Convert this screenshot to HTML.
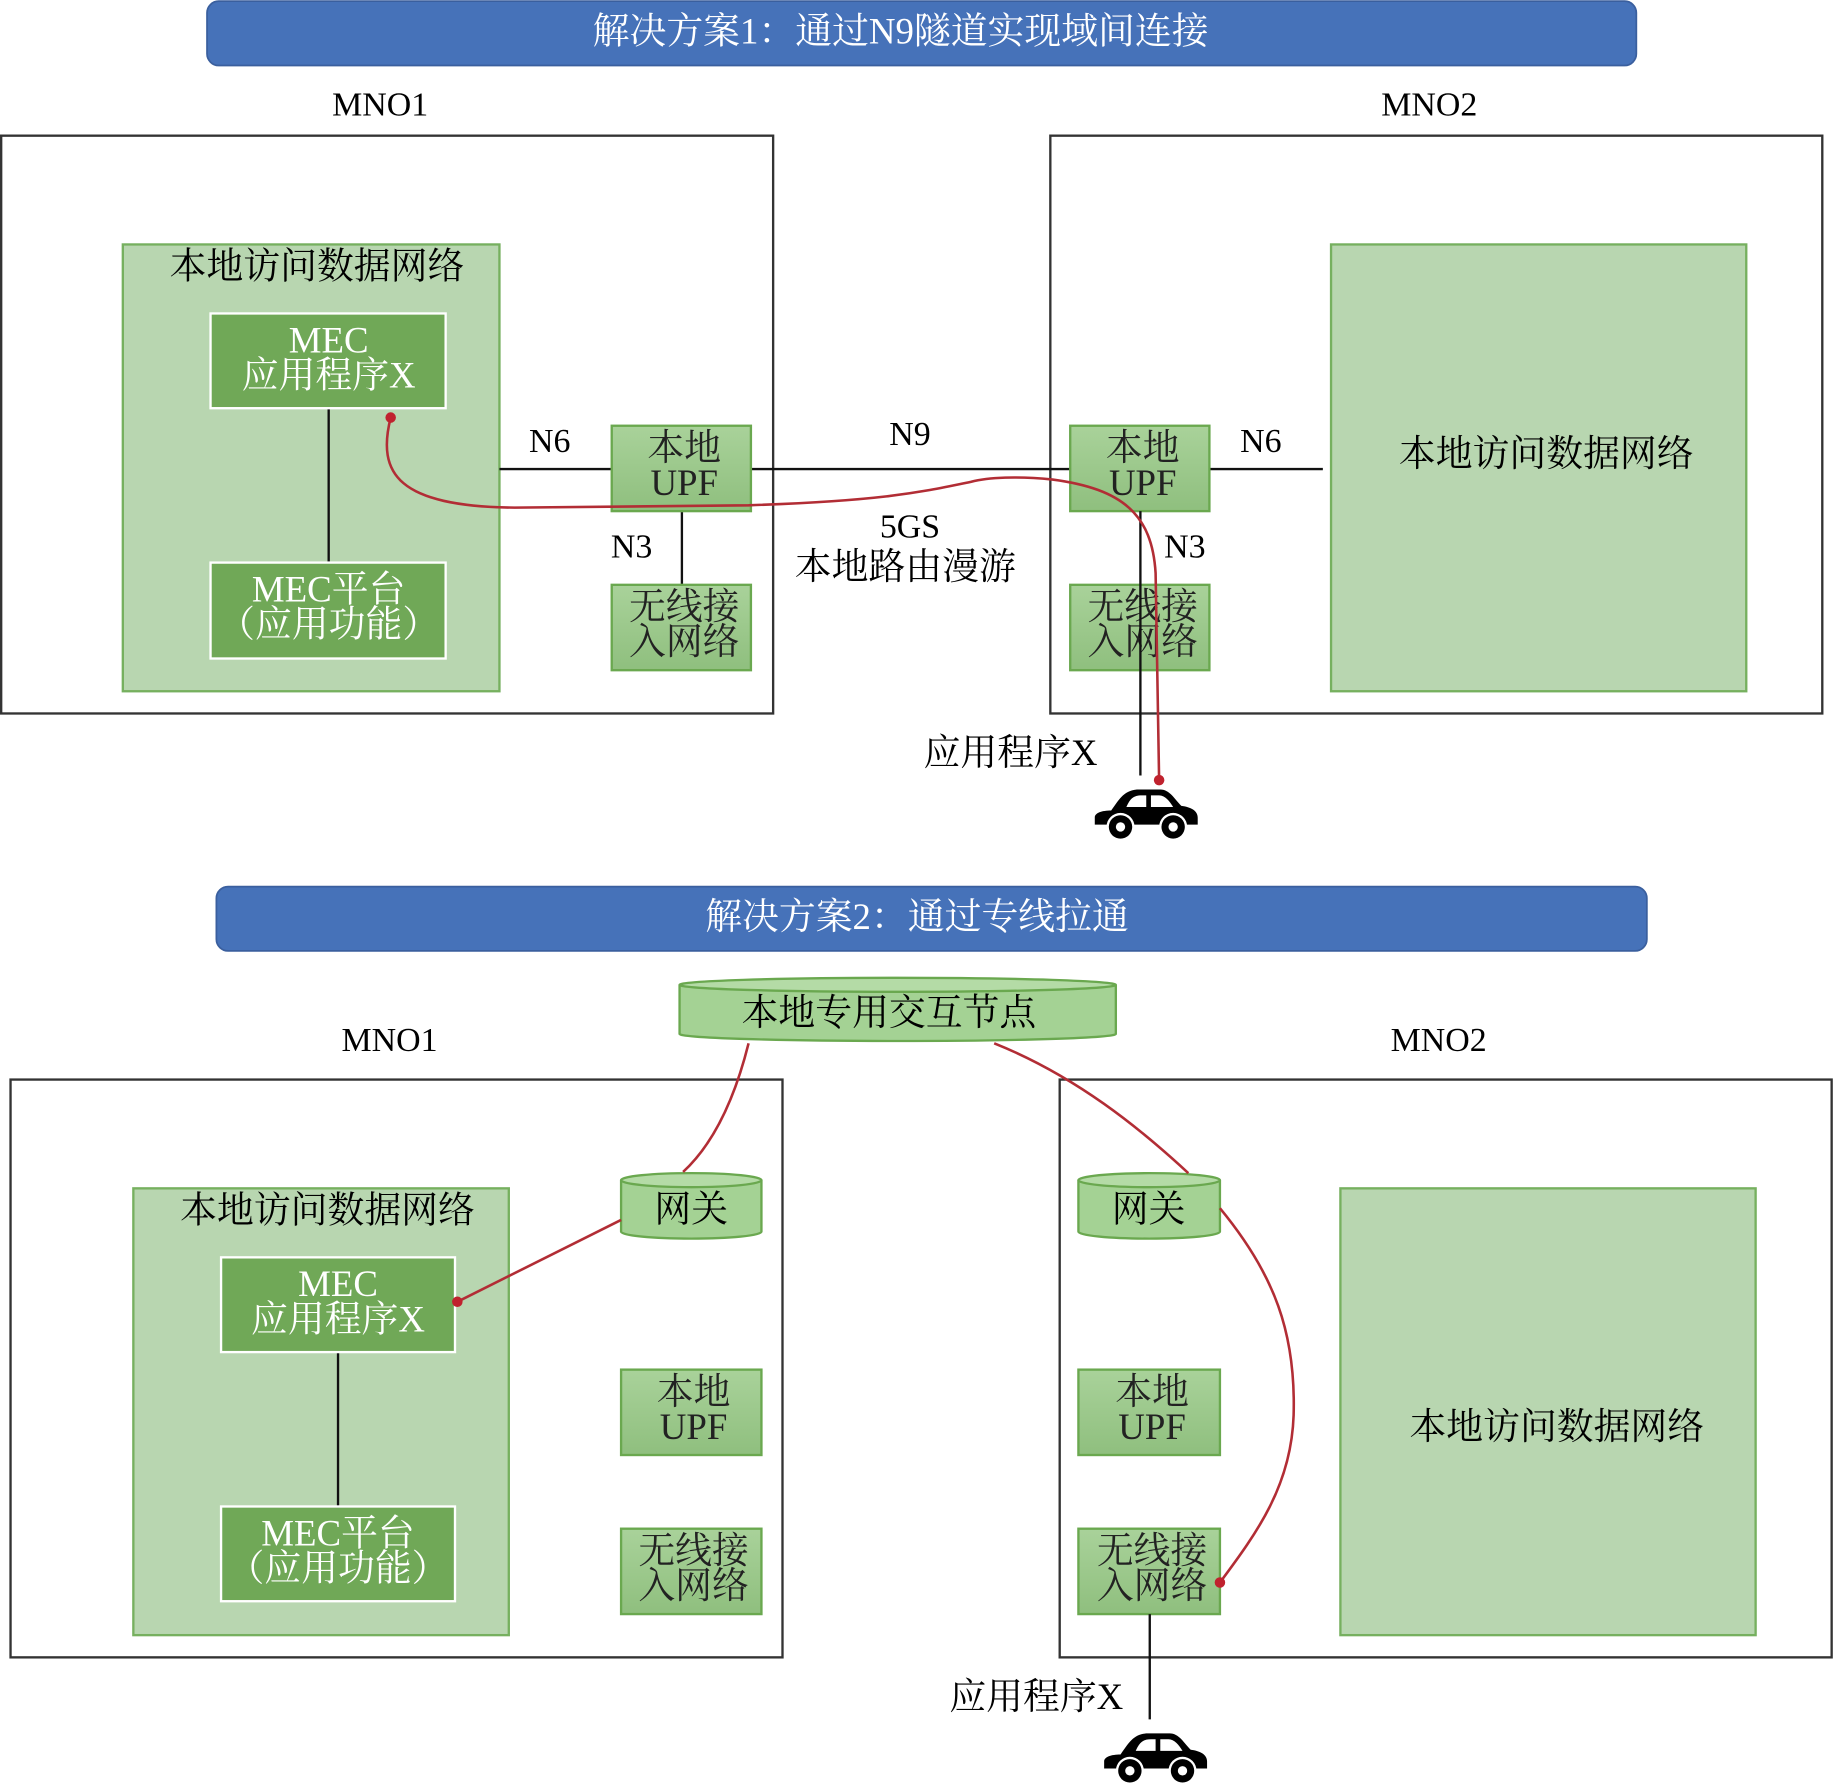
<!DOCTYPE html>
<html><head><meta charset="utf-8"><style>
html,body{margin:0;padding:0;background:#fff;}
svg{display:block;}
text{font-family:"Liberation Serif","Noto Serif CJK SC",serif;text-anchor:middle;dominant-baseline:middle;}
</style></head><body>
<svg width="1834" height="1790" viewBox="0 0 1568 1530.4" xmlns="http://www.w3.org/2000/svg">
<defs>
<linearGradient id="g" x1="0" y1="0" x2="0" y2="1"><stop offset="0" stop-color="#a9d29a"/><stop offset="1" stop-color="#8fbf7e"/></linearGradient>
<g id="car">
<path d="M14,18 C20,10 24,1 36,0 L56,0 C64,0 68,8 74,14 C82,15 88,18 88,24 L88,30 L0,30 L0,24 C0,20 6,18 14,18 Z" fill="#000"/>
<path d="M27,15 C30,8 33,5 40,5 L44,5 L44,15 Z" fill="#fff"/>
<path d="M48,5 L55,5 C60,5 64,10 67,15 L48,15 Z" fill="#fff"/>
<circle cx="22" cy="32" r="12" fill="#fff"/><circle cx="22" cy="32" r="10" fill="#000"/><circle cx="22" cy="32" r="4" fill="#fff"/>
<circle cx="67" cy="32" r="12" fill="#fff"/><circle cx="67" cy="32" r="10" fill="#000"/><circle cx="67" cy="32" r="4" fill="#fff"/>
</g>
</defs>
<g font-size="31.5">
<!-- Banner 1 -->
<rect x="177" y="1" width="1222" height="55" rx="10" fill="#4672b9" stroke="#3a5f9e" stroke-width="1.5"/>
<text x="770" y="30" fill="#fff" font-size="31.5">解决方案1：通过N9隧道实现域间连接</text>
<text x="325" y="92" font-size="29">MNO1</text>
<text x="1222" y="92" font-size="29">MNO2</text>
<rect x="1" y="116" width="660" height="494" fill="none" stroke="#333" stroke-width="2"/>
<rect x="898" y="116" width="660" height="494" fill="none" stroke="#333" stroke-width="2"/>
<rect x="105" y="209" width="322" height="382" fill="#b8d6b0" stroke="#76b05f" stroke-width="2"/>
<text x="271" y="231">本地访问数据网络</text>
<line x1="281" y1="349" x2="281" y2="481" stroke="#111" stroke-width="2"/>
<rect x="180" y="268" width="201" height="81" fill="#70a857" stroke="#fff" stroke-width="2"/>
<text x="281" y="294" fill="#fff">MEC</text><text x="281" y="324" fill="#fff">应用程序X</text>
<rect x="180" y="481" width="201" height="82" fill="#70a857" stroke="#fff" stroke-width="2"/>
<text x="281" y="507" fill="#fff">MEC平台</text><text x="281" y="537" fill="#fff">（应用功能）</text>
<line x1="427" y1="401" x2="523" y2="401" stroke="#111" stroke-width="2"/>
<line x1="642" y1="401" x2="915" y2="401" stroke="#111" stroke-width="2"/>
<line x1="1034" y1="401" x2="1131" y2="401" stroke="#111" stroke-width="2"/>
<line x1="583" y1="437" x2="583" y2="500" stroke="#111" stroke-width="2"/>
<text x="470" y="380" font-size="29">N6</text>
<text x="778" y="374" font-size="29">N9</text>
<text x="1078" y="380" font-size="29">N6</text>
<text x="540" y="470" font-size="29">N3</text>
<text x="1013" y="470" font-size="29">N3</text>
<text x="778" y="453" font-size="29">5GS</text>
<text x="774" y="488">本地路由漫游</text>
<rect x="523" y="364" width="119" height="73" fill="url(#g)" stroke="#6aa84f" stroke-width="2"/>
<text x="585" y="386" fill="#222">本地</text><text x="585" y="416" fill="#222">UPF</text>
<rect x="523" y="500" width="119" height="73" fill="url(#g)" stroke="#6aa84f" stroke-width="2"/>
<text x="585" y="522" fill="#222">无线接</text><text x="585" y="552" fill="#222">入网络</text>
<rect x="915" y="364" width="119" height="73" fill="url(#g)" stroke="#6aa84f" stroke-width="2"/>
<text x="977" y="386" fill="#222">本地</text><text x="977" y="416" fill="#222">UPF</text>
<rect x="915" y="500" width="119" height="73" fill="url(#g)" stroke="#6aa84f" stroke-width="2"/>
<text x="977" y="522" fill="#222">无线接</text><text x="977" y="552" fill="#222">入网络</text>
<line x1="975" y1="437" x2="975" y2="663" stroke="#111" stroke-width="2"/>
<rect x="1138" y="209" width="355" height="382" fill="#b8d6b0" stroke="#76b05f" stroke-width="2"/>
<text x="1322" y="391">本地访问数据网络</text>
<path d="M334,357 C322,405 340,433 440,434 L640,432 C760,428 790,420 830,412 C845,408 870,407 900,410 C960,418 985,440 988,490 L991,667" fill="none" stroke="#b22d35" stroke-width="2.2"/>
<circle cx="334" cy="357" r="4.5" fill="#c0222e"/>
<circle cx="991" cy="667" r="4.5" fill="#c0222e"/>
<text x="864" y="647">应用程序X</text>
<use href="#car" x="936" y="675"/>

<!-- Banner 2 -->
<rect x="185" y="758" width="1223" height="55" rx="10" fill="#4672b9" stroke="#3a5f9e" stroke-width="1.5"/>
<text x="784" y="787" fill="#fff">解决方案2：通过专线拉通</text>
<path d="M581,842 L581,884 A186,6 0 0 0 954,884 L954,842" fill="#a4d294" stroke="#6aa84f" stroke-width="2"/>
<ellipse cx="767.5" cy="842" rx="186.5" ry="6" fill="#b4dba6" stroke="#6aa84f" stroke-width="2"/>
<text x="760" y="869">本地专用交互节点</text>
<text x="333" y="892" font-size="29">MNO1</text>
<text x="1230" y="892" font-size="29">MNO2</text>
<rect x="9" y="923" width="660" height="494" fill="none" stroke="#333" stroke-width="2"/>
<rect x="906" y="923" width="660" height="494" fill="none" stroke="#333" stroke-width="2"/>
<rect x="114" y="1016" width="321" height="382" fill="#b8d6b0" stroke="#76b05f" stroke-width="2"/>
<text x="280" y="1038">本地访问数据网络</text>
<line x1="289" y1="1156" x2="289" y2="1288" stroke="#111" stroke-width="2"/>
<rect x="189" y="1075" width="200" height="81" fill="#70a857" stroke="#fff" stroke-width="2"/>
<text x="289" y="1101" fill="#fff">MEC</text><text x="289" y="1131" fill="#fff">应用程序X</text>
<rect x="189" y="1288" width="200" height="81" fill="#70a857" stroke="#fff" stroke-width="2"/>
<text x="289" y="1314" fill="#fff">MEC平台</text><text x="289" y="1344" fill="#fff">（应用功能）</text>
<path d="M531,1009 L531,1053 A60,6 0 0 0 651,1053 L651,1009" fill="#a4d294" stroke="#6aa84f" stroke-width="2"/>
<ellipse cx="591" cy="1009" rx="60" ry="6" fill="#b4dba6" stroke="#6aa84f" stroke-width="2"/>
<text x="591" y="1037">网关</text>
<rect x="531" y="1171" width="120" height="73" fill="url(#g)" stroke="#6aa84f" stroke-width="2"/>
<text x="593" y="1193" fill="#222">本地</text><text x="593" y="1223" fill="#222">UPF</text>
<rect x="531" y="1307" width="120" height="73" fill="url(#g)" stroke="#6aa84f" stroke-width="2"/>
<text x="593" y="1329" fill="#222">无线接</text><text x="593" y="1359" fill="#222">入网络</text>
<path d="M922,1009 L922,1053 A60.5,6 0 0 0 1043,1053 L1043,1009" fill="#a4d294" stroke="#6aa84f" stroke-width="2"/>
<ellipse cx="982.5" cy="1009" rx="60.5" ry="6" fill="#b4dba6" stroke="#6aa84f" stroke-width="2"/>
<text x="982" y="1037">网关</text>
<rect x="922" y="1171" width="121" height="73" fill="url(#g)" stroke="#6aa84f" stroke-width="2"/>
<text x="985" y="1193" fill="#222">本地</text><text x="985" y="1223" fill="#222">UPF</text>
<rect x="922" y="1307" width="121" height="73" fill="url(#g)" stroke="#6aa84f" stroke-width="2"/>
<text x="985" y="1329" fill="#222">无线接</text><text x="985" y="1359" fill="#222">入网络</text>
<rect x="1146" y="1016" width="355" height="382" fill="#b8d6b0" stroke="#76b05f" stroke-width="2"/>
<text x="1331" y="1223">本地访问数据网络</text>
<path d="M584,1002 C610,978 628,940 640,892" fill="none" stroke="#b22d35" stroke-width="2.2"/>
<path d="M531,1043 L391,1113" fill="none" stroke="#b22d35" stroke-width="2.2"/>
<circle cx="391" cy="1113" r="4.5" fill="#c0222e"/>
<path d="M850,892 C920,920 975,965 1016,1003" fill="none" stroke="#b22d35" stroke-width="2.2"/>
<path d="M1043,1033 C1090,1090 1108,1140 1106,1210 C1104,1270 1075,1310 1043,1353" fill="none" stroke="#b22d35" stroke-width="2.2"/>
<circle cx="1043" cy="1353" r="4.5" fill="#c0222e"/>
<line x1="983" y1="1380" x2="983" y2="1470" stroke="#111" stroke-width="2"/>
<text x="886" y="1454">应用程序X</text>
<use href="#car" x="944" y="1482"/>
</g>
</svg>
</body></html>
